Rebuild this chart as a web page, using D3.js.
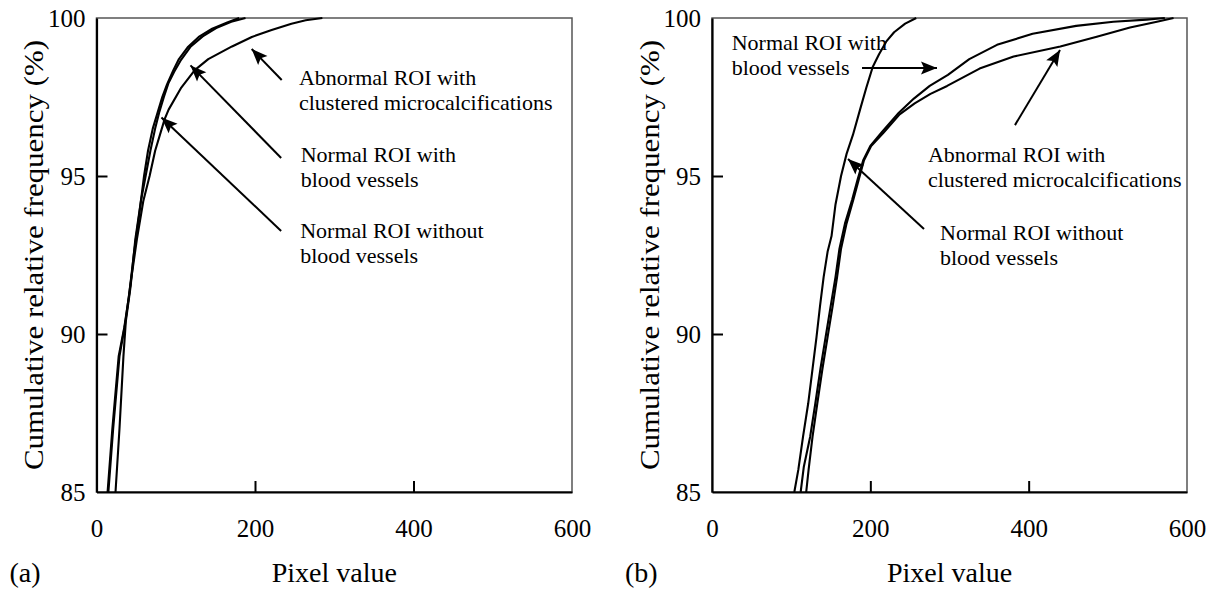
<!DOCTYPE html>
<html>
<head>
<meta charset="utf-8">
<script src="https://cdn.jsdelivr.net/npm/d3@7"></script>
<style>
  html, body { margin: 0; padding: 0; background: #fff; }
  svg { display: block; font-family: "Liberation Serif", "Times New Roman", serif; }
</style>
</head>
<body>
<div id="chart"></div>
<script>
const pixelTicks = [0, 200, 400, 600];
const freqTicks = [85, 90, 95, 100];

// panel (a): [pixel value, cumulative relative frequency %]
const aAbnormal = [[15,85],[21,87],[29,89.3],[36,90.3],[43,91.6],[51,93],[59,94.2],[67,95],[74,95.8],[86,96.8],[91,97.1],[107,97.8],[124,98.35],[141,98.7],[171,99.1],[196,99.4],[221,99.62],[246,99.82],[264,99.93],[285,100]];
const aNormalWith = [[14,85],[20,87],[28,89.3],[35,90.2],[41,91.2],[47,92.5],[54,93.8],[60,95],[65,95.8],[71,96.5],[77,97],[83,97.5],[89,97.9],[97,98.35],[104,98.7],[115,99.07],[129,99.4],[146,99.66],[165,99.86],[180,100]];
const aNormalWithout = [[24,85],[29,87],[34,89.3],[37,90.4],[43,91.5],[49,93],[56,94.2],[62,95],[68,95.8],[74,96.5],[79,97],[85,97.5],[91,97.95],[98,98.3],[106,98.65],[119,99.1],[134,99.42],[151,99.68],[170,99.88],[188,100]];

// panel (b)
const bNormalWithout = [[104,85],[109,85.7],[115,86.75],[121.5,87.8],[127,88.9],[132,89.9],[136.5,90.9],[141,91.8],[146,92.6],[151,93.1],[156,94.1],[163,95],[170,95.7],[178,96.3],[187,97.1],[195,97.8],[203,98.45],[211,98.85],[220,99.25],[230,99.55],[244,99.82],[258,100]];
const bNormalWith = [[112,85],[116,85.8],[124,86.75],[130.5,87.8],[137,88.9],[143.5,89.9],[150,90.9],[156,91.8],[161,92.7],[168,93.5],[177,94.25],[184,94.9],[191,95.5],[200,95.95],[215,96.4],[236,97],[255,97.45],[275,97.85],[298,98.2],[325,98.7],[360,99.15],[405,99.5],[460,99.75],[507,99.88],[549,99.95],[572,100]];
const bAbnormal = [[119,85],[122,85.7],[127,86.75],[133,87.8],[139.5,88.9],[146,89.9],[152.5,90.9],[158,91.8],[163,92.7],[170,93.5],[178.5,94.25],[185.5,94.9],[192,95.5],[201,95.95],[216,96.35],[237,96.95],[256,97.3],[276,97.6],[297,97.85],[338,98.4],[381,98.78],[440,99.1],[486,99.41],[528,99.7],[562,99.88],[583,100]];

const labelAbnormal = ["Abnormal ROI with", "clustered microcalcifications"];
const labelWith = ["Normal ROI with", "blood vessels"];
const labelWithout = ["Normal ROI without", "blood vessels"];

// text anchor and arrow (tail -> tip), all in data units
const aNotes = [
  {lines: labelAbnormal, at: [255.5, 97.88], tail: [233.7, 98.04], tip: [195.8, 99.02]},
  {lines: labelWith, at: [257.7, 95.44], tail: [233, 95.57], tip: [118.6, 98.5]},
  {lines: labelWithout, at: [257, 93.04], tail: [233, 93.26], tip: [82, 96.85]}
];
const bNotes = [
  {lines: labelWith, at: [24.9, 99.0], tail: [189.5, 98.42], tip: [284.2, 98.42]},
  {lines: labelAbnormal, at: [272.8, 95.44], tail: [382.7, 96.61], tip: [439.6, 98.99]},
  {lines: labelWithout, at: [288, 92.97], tail: [267.8, 93.32], tip: [171.8, 95.54]}
];

const width = 1216;
const height = 590;
const plotTop = 18;
const plotBottom = 492;

const svg = d3.select('#chart').append('svg')
  .attr('width', width)
  .attr('height', height);

svg.append('defs').append('marker')
  .attr('id', 'head')
  .attr('viewBox', '-17 -7 18 14')
  .attr('refX', 0)
  .attr('refY', 0)
  .attr('markerUnits', 'userSpaceOnUse')
  .attr('markerWidth', 18)
  .attr('markerHeight', 14)
  .attr('orient', 'auto')
  .append('path')
  .attr('d', 'M0,0L-16,-6.5L-13,0L-16,6.5Z')
  .attr('fill', '#000');

function drawPanel(left, right, series, notes, tag) {
  const x = d3.scaleLinear().domain([0, 600]).range([left, right]);
  const y = d3.scaleLinear().domain([85, 100]).range([plotBottom, plotTop]);
  const g = svg.append('g');

  // frame: top and right are lighter in the scan
  g.append('rect')
    .attr('x', left).attr('y', plotTop)
    .attr('width', right - left).attr('height', plotBottom - plotTop)
    .attr('fill', 'none')
    .attr('stroke', '#555')
    .attr('stroke-width', 1.5);

  const line = d3.line().x(d => x(d[0])).y(d => y(d[1]));
  g.append('g')
    .attr('fill', 'none')
    .attr('stroke', '#000')
    .attr('stroke-width', 2.1)
    .attr('stroke-linejoin', 'round')
    .selectAll('path')
    .data(series)
    .join('path')
    .attr('d', line);

  const xAxis = g.append('g')
    .attr('transform', `translate(0,${plotBottom})`)
    .call(d3.axisBottom(x).tickValues(pixelTicks).tickSizeInner(-11).tickSizeOuter(0).tickPadding(27));
  const yAxis = g.append('g')
    .attr('transform', `translate(${left},0)`)
    .call(d3.axisLeft(y).tickValues(freqTicks).tickSizeInner(-11).tickSizeOuter(0).tickPadding(11));

  [xAxis, yAxis].forEach(a => {
    a.select('.domain').attr('stroke', '#000').attr('stroke-width', 2.2);
    a.selectAll('.tick line').attr('stroke', '#000').attr('stroke-width', 2);
    a.selectAll('.tick text')
      .attr('fill', '#000')
      .style('font-family', '"Liberation Serif", "Times New Roman", serif')
      .style('font-size', '25px');
  });
  // keep ticks off the frame corners
  yAxis.selectAll('.tick line').filter(d => d === 100 || d === 85).remove();
  xAxis.selectAll('.tick line').filter(d => d === 600 || d === 0).remove();

  g.append('text')
    .attr('x', (left + right) / 2)
    .attr('y', 582)
    .attr('text-anchor', 'middle')
    .style('font-size', '28px')
    .text('Pixel value');

  g.append('text')
    .attr('transform', `translate(${left - 53.5},${(plotTop + plotBottom) / 2}) rotate(-90)`)
    .attr('text-anchor', 'middle')
    .attr('textLength', 430)
    .attr('lengthAdjust', 'spacingAndGlyphs')
    .style('font-size', '27px')
    .text('Cumulative relative frequency (%)');

  g.append('text')
    .attr('x', left - 87)
    .attr('y', 582)
    .style('font-size', '28px')
    .text(tag);

  const note = g.append('g')
    .selectAll('g')
    .data(notes)
    .join('g');

  note.append('line')
    .attr('x1', d => x(d.tail[0]))
    .attr('y1', d => y(d.tail[1]))
    .attr('x2', d => x(d.tip[0]))
    .attr('y2', d => y(d.tip[1]))
    .attr('stroke', '#000')
    .attr('stroke-width', 2)
    .attr('marker-end', 'url(#head)');

  note.append('text')
    .attr('x', d => x(d.at[0]))
    .attr('y', d => y(d.at[1]))
    .style('font-size', '22px')
    .selectAll('tspan')
    .data(d => d.lines)
    .join('tspan')
    .attr('x', function () { return this.parentNode.getAttribute('x'); })
    .attr('dy', (d, i) => i === 0 ? 0 : 25)
    .text(d => d);
}

drawPanel(96.5, 572, [aAbnormal, aNormalWith, aNormalWithout], aNotes, '(a)');
drawPanel(712, 1187, [bNormalWithout, bNormalWith, bAbnormal], bNotes, '(b)');
</script>
</body>
</html>
